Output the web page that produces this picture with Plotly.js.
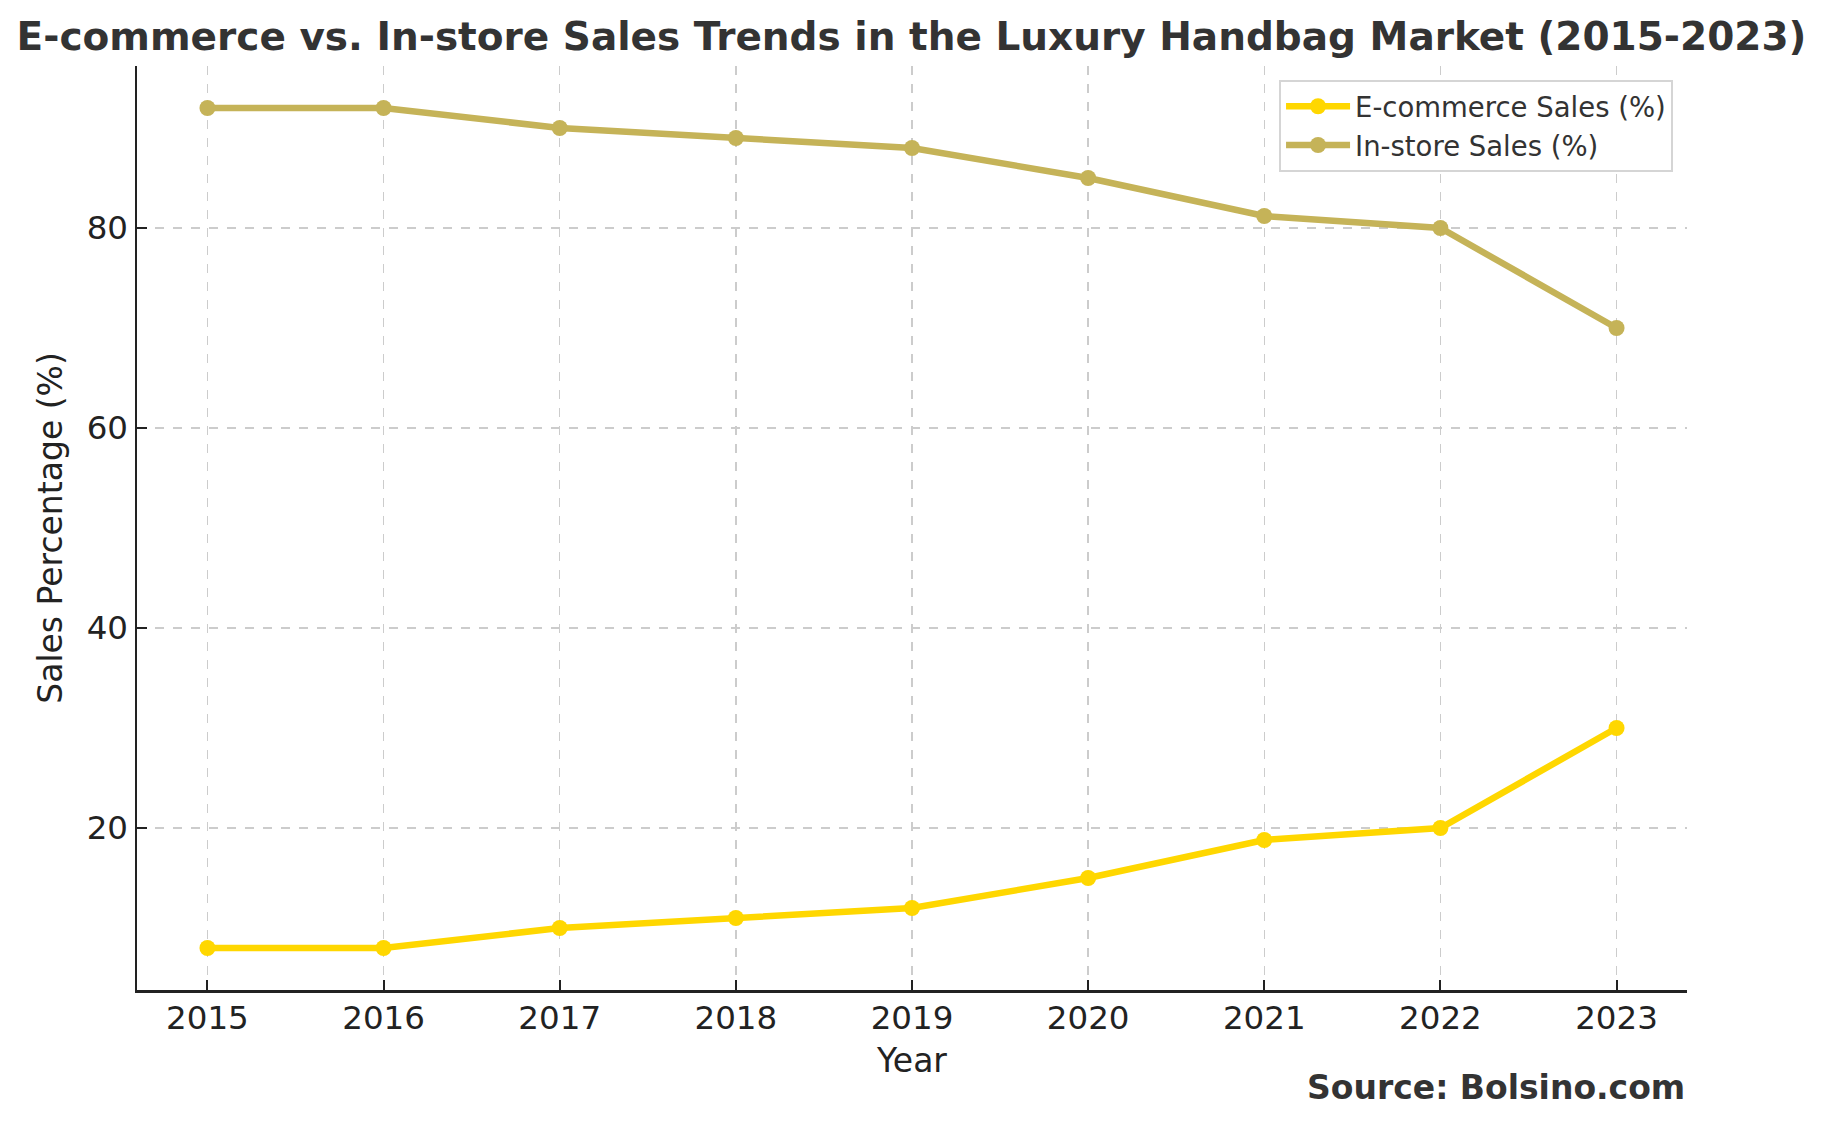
<!DOCTYPE html>
<html>
<head>
<meta charset="utf-8">
<script src="https://cdn.plot.ly/plotly-3.0.1.min.js"></script>
<style>html,body{margin:0;padding:0;background:#fff;}#chart{width:1823px;height:1125px;}</style>
</head>
<body>
<div id="chart"></div>
<script>
const years = [2015, 2016, 2017, 2018, 2019, 2020, 2021, 2022, 2023];
const ecommerceSales = [8, 8, 10, 11, 12, 15, 18.8, 20, 30];
const instoreSales = [92, 92, 90, 89, 88, 85, 81.2, 80, 70];
const seriesNames = ["E-commerce Sales (%)", "In-store Sales (%)"];
const yTicks = [20, 40, 60, 80];

const font = "DejaVu Sans, Verdana, sans-serif";

const traces = [
  {x: years, y: ecommerceSales, name: seriesNames[0], type: "scatter", mode: "lines+markers",
   line: {color: "#FFD700", width: 6.5}, marker: {color: "#FFD700", size: 16}},
  {x: years, y: instoreSales, name: seriesNames[1], type: "scatter", mode: "lines+markers",
   line: {color: "#C5B358", width: 6.5}, marker: {color: "#C5B358", size: 16}}
];

const layout = {
  width: 1823, height: 1125,
  paper_bgcolor: "#fff", plot_bgcolor: "#fff",
  margin: {l: 137, r: 136, t: 66, b: 135},
  font: {family: font, color: "#222"},
  title: {text: "<b>E-commerce vs. In-store Sales Trends in the Luxury Handbag Market (2015-2023)</b>",
          font: {family: font, size: 39, color: "#333"}, x: 0.5, xanchor: "center", y: 0.968, yanchor: "middle"},
  xaxis: {range: [2014.6, 2023.4], tickvals: years, ticktext: years.map(String),
          showline: true, linecolor: "#222", linewidth: 2.5, mirror: false,
          ticks: "inside", ticklen: 10, tickwidth: 2, tickcolor: "#222",
          tickfont: {family: font, size: 32.5, color: "#222"}, ticklabelstandoff: -3,
          showgrid: true, gridcolor: "#cccccc", gridwidth: 1.5, griddash: "dash",
          zeroline: false, fixedrange: true,
          title: {text: "Year", font: {family: font, size: 33, color: "#222"}, standoff: 14}},
  yaxis: {range: [3.8, 96.2], tickvals: yTicks,
          showline: true, linecolor: "#222", linewidth: 2.5, mirror: false,
          ticks: "inside", ticklen: 10, tickwidth: 2, tickcolor: "#222",
          tickfont: {family: font, size: 32.5, color: "#222"},
          showgrid: true, gridcolor: "#cccccc", gridwidth: 1.5, griddash: "dash",
          zeroline: false, fixedrange: true,
          title: {text: "Sales Percentage (%)", font: {family: font, size: 33, color: "#222"}, standoff: 14}},
  legend: {x: 0.991, xanchor: "right", y: 0.985, yanchor: "top",
           bgcolor: "#fff", bordercolor: "#d5d5d5", borderwidth: 2,
           itemwidth: 64,
           font: {family: font, size: 27.5, color: "#333"}},
  showlegend: true,
  annotations: [{text: "<b>Source: Bolsino.com</b>", xref: "paper", yref: "paper", x: 1, y: -0.106,
                 xanchor: "right", yanchor: "middle", showarrow: false,
                 font: {family: font, size: 33, color: "#333"}}]
};

Plotly.newPlot("chart", traces, layout, {displayModeBar: false, staticPlot: true});
</script>
</body>
</html>
